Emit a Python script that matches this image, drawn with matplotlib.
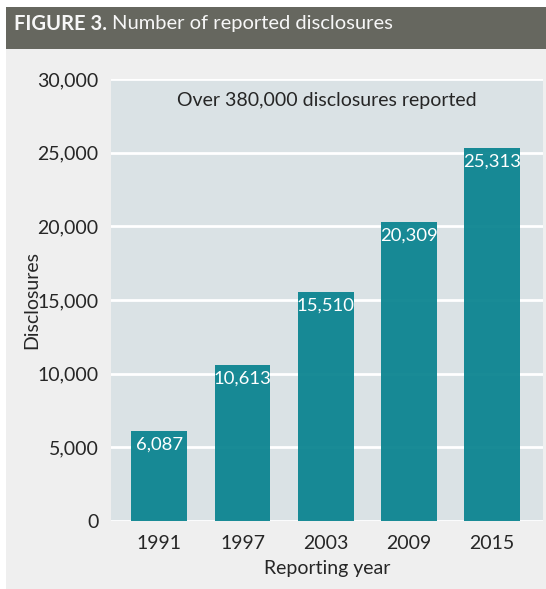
import matplotlib
matplotlib.use("Agg")
import matplotlib.pyplot as plt
from matplotlib.patches import Rectangle
from matplotlib.ticker import FuncFormatter

# data
years = ["1991", "1997", "2003", "2009", "2015"]
disclosures = [6087, 10613, 15510, 20309, 25313]
y_ticks = [0, 5000, 10000, 15000, 20000, 25000, 30000]

W, H = 546, 589
HEADER_BG = "#66675f"
PANEL_BG = "#efefef"
AXES_BG = "#dae2e5"
BAR_COLOR = "#0f8692"
TEXT = "#262626"

plt.rcParams["font.family"] = ["Lato", "DejaVu Sans"]

fig = plt.figure(figsize=(W / 100, H / 100), dpi=100)
fig.patch.set_facecolor("white")


def px(x, y):
    # pixel (from top-left) -> figure fraction
    return x / W, 1 - y / H


# light panel and dark header band
fig.patches.append(Rectangle((6 / W, 0), 540 / W, 540 / H, transform=fig.transFigure,
                             facecolor=PANEL_BG, edgecolor="none", zorder=-2))
fig.patches.append(Rectangle((6 / W, 1 - 49 / H), 540 / W, 42 / H, transform=fig.transFigure,
                             facecolor=HEADER_BG, edgecolor="none", zorder=-2))

tx, ty = px(14, 29.5)
t_bold = fig.text(tx, ty, "FIGURE 3.", color="#f7f7f7", fontsize=14.5,
                  fontweight="bold", va="baseline", ha="left")
fig.canvas.draw()
bb = t_bold.get_window_extent(renderer=fig.canvas.get_renderer())
fig.text(bb.x1 / W + 5 / W, ty, "Number of reported disclosures", color="#f7f7f7",
         fontsize=14.5, va="baseline", ha="left")

# plot area
ax = fig.add_axes([111 / W, 1 - 521 / H, 432 / W, 442 / H])
ax.set_facecolor(AXES_BG)
for s in ax.spines.values():
    s.set_visible(False)

x = range(len(years))
ax.yaxis.grid(True, color="white", linewidth=2)
ax.set_axisbelow(True)
bars = ax.bar(x, disclosures, width=0.67, color=BAR_COLOR, alpha=0.96, zorder=2)

for rect, val in zip(bars, disclosures):
    ax.annotate(f"{val:,}", (rect.get_x() + rect.get_width() / 2, rect.get_height()),
                xytext=(0, -4), textcoords="offset points", ha="center", va="top",
                color="white", fontsize=13.3, zorder=3)

ax.text(0.5, 0.952, "Over 380,000 disclosures reported", transform=ax.transAxes,
        ha="center", va="center", fontsize=14, color=TEXT)

ax.set_xlim(-0.58, 4.61)
ax.set_ylim(0, 30000)
ax.set_xticks(list(x))
ax.set_xticklabels(years)
ax.set_yticks(y_ticks)
ax.yaxis.set_major_formatter(FuncFormatter(lambda v, _: f"{int(v):,}"))
ax.tick_params(length=0, labelsize=14, labelcolor=TEXT)
ax.tick_params(axis="y", pad=9)
ax.tick_params(axis="x", pad=10)

ax.set_ylabel("Disclosures", fontsize=14, color=TEXT, va="center")
ax.yaxis.set_label_coords(-0.184, 0.5)
ax.set_xlabel("Reporting year", fontsize=14, color=TEXT, va="center")
ax.xaxis.set_label_coords(0.5, -0.107)

fig.savefig("out.png", dpi=100)
